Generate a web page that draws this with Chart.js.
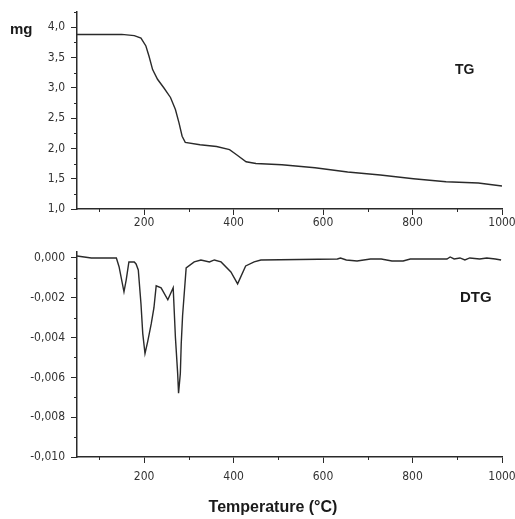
<!DOCTYPE html>
<html>
<head>
<meta charset="utf-8">
<script src="https://cdn.jsdelivr.net/npm/chart.js@4.4.0/dist/chart.umd.min.js"></script>
<style>
	html, body { margin: 0; padding: 0; background: #fff; }
	#wrap { position: relative; width: 515px; height: 519px; }
	#tg { position: absolute; left: 0; top: 0; }
	#dtg { position: absolute; left: 0; top: 240px; }
</style>
</head>
<body>
<div id="wrap">
	<canvas id="tg" width="515" height="240"></canvas>
	<canvas id="dtg" width="515" height="279"></canvas>
</div>
<script>
// TG curve (mass, mg)
const tgTemp = [50, 100, 150, 178, 193, 204, 211, 219, 230, 244, 259, 270, 278, 285, 292, 325, 362, 391, 406, 428, 450, 508, 582, 655, 728, 802, 875, 947, 1000];
const tgMass = [3.88, 3.88, 3.88, 3.86, 3.82, 3.69, 3.52, 3.30, 3.14, 3.00, 2.84, 2.64, 2.42, 2.20, 2.10, 2.06, 2.03, 1.98, 1.90, 1.78, 1.75, 1.73, 1.68, 1.61, 1.56, 1.50, 1.45, 1.43, 1.38];

// DTG curve (mg/°C)
const dtgTemp = [50, 82, 138, 144, 155, 160, 166, 178, 182, 187, 193, 197, 202, 208, 216, 222, 227, 238, 253, 265, 270, 275, 277, 281, 283, 286, 294, 312, 327, 346, 357, 372, 394, 409, 427, 446, 461, 632, 639, 652, 676, 706, 730, 754, 779, 795, 877, 884, 893, 906, 917, 928, 950, 966, 985, 998];
const dtgVal = [0.0001, 0, 0, -0.00044, -0.0017, -0.0011, -0.0002, -0.0002, -0.0003, -0.0006, -0.0023, -0.0038, -0.0048, -0.0042, -0.0033, -0.0025, -0.0014, -0.0015, -0.0021, -0.0015, -0.0040, -0.0058, -0.0068, -0.0058, -0.0043, -0.0029, -0.0005, -0.0002, -0.0001, -0.0002, -0.0001, -0.0002, -0.0007, -0.0013, -0.0004, -0.0002, -0.0001, -0.00005, 0, -0.0001, -0.00015, -0.00005, -0.00005, -0.00015, -0.00015, -0.00005, -0.00005, 0.00005, -0.00005, 0, -0.0001, 0, -0.00005, 0, -0.00005, -0.0001];

// tick values
const xMajor = [200, 400, 600, 800, 1000];
const xMinor = [100, 300, 500, 700, 900];
const tgMajor = [1.0, 1.5, 2.0, 2.5, 3.0, 3.5, 4.0];
const tgMinor = [1.25, 1.75, 2.25, 2.75, 3.25, 3.75, 4.25];
const dtgMajor = [-0.010, -0.008, -0.006, -0.004, -0.002, 0];
const dtgMinor = [-0.009, -0.007, -0.005, -0.003, -0.001];

const tickFont = { family: "'Liberation Sans Narrow', 'DejaVu Sans Condensed', 'Liberation Sans', Arial, sans-serif", size: 12 };
const inkColor = '#2a2a2a';

// short minor ticks, drawn from the scale itself
function minorTicks(xs, ys) {
	return {
		id: 'minorTicks',
		afterDraw(chart) {
			const ctx = chart.ctx;
			const sx = chart.scales.x, sy = chart.scales.y;
			ctx.save();
			ctx.strokeStyle = inkColor;
			ctx.lineWidth = 1;
			ctx.beginPath();
			xs.forEach(v => {
				const px = Math.round(sx.getPixelForValue(v)) + 0.5;
				ctx.moveTo(px, sx.top);
				ctx.lineTo(px, sx.top + 3);
			});
			ys.forEach(v => {
				const py = Math.round(sy.getPixelForValue(v)) + 0.5;
				if (py < chart.chartArea.top - 1) return;
				ctx.moveTo(sy.right, py);
				ctx.lineTo(sy.right - 3, py);
			});
			ctx.stroke();
			ctx.restore();
		}
	};
}

// text labels on the picture
function labels(items) {
	return {
		id: 'labels',
		afterDraw(chart) {
			const ctx = chart.ctx;
			ctx.save();
			ctx.fillStyle = '#1a1a1a';
			ctx.textBaseline = 'middle';
			items.forEach(it => {
				ctx.font = it.font;
				ctx.textAlign = it.align || 'left';
				ctx.fillText(it.text, it.x, it.y);
			});
			ctx.restore();
		}
	};
}

function commaFmt(digits) {
	return v => v.toFixed(digits).replace('.', ',');
}

function makeChart(el, xs, ys, yMin, yMax, yMajor, yDigits, padTop, axisH, xPad, extra) {
	return new Chart(el, {
		type: 'line',
		data: {
			datasets: [{
				data: xs.map((t, i) => ({ x: t, y: ys[i] })),
				borderColor: inkColor,
				borderWidth: 1.4,
				pointRadius: 0,
				tension: 0,
				fill: false
			}]
		},
		options: {
			responsive: false,
			animation: false,
			layout: { padding: { top: padTop, right: 13, left: 0, bottom: 0 } },
			plugins: { legend: { display: false }, tooltip: { enabled: false } },
			scales: {
				x: {
					type: 'linear',
					min: 50,
					max: 1000,
					afterBuildTicks: s => { s.ticks = xMajor.map(v => ({ value: v })); },
					afterFit: s => { s.height = axisH; s.paddingRight = 0; s.paddingLeft = 0; },
					grid: { drawOnChartArea: false, drawTicks: true, tickLength: 6, color: inkColor },
					border: { display: true, color: inkColor, width: 1.5 },
					ticks: { color: '#333', font: tickFont, padding: xPad, maxRotation: 0, callback: v => String(v) }
				},
				y: {
					type: 'linear',
					min: yMin,
					max: yMax,
					afterBuildTicks: s => { s.ticks = yMajor.map(v => ({ value: v })); },
					afterFit: s => { s.width = 77; s.paddingTop = 0; s.paddingBottom = 0; },
					grid: { drawOnChartArea: false, drawTicks: true, tickLength: 6, color: inkColor },
					border: { display: true, color: inkColor, width: 1.5 },
					ticks: { color: '#333', font: tickFont, padding: 6, callback: commaFmt(yDigits) }
				}
			}
		},
		plugins: extra
	});
}

makeChart(document.getElementById('tg'), tgTemp, tgMass, 1.0, 4.25, tgMajor, 1, 12, 31, 1, [
	minorTicks(xMinor, tgMinor),
	labels([
		{ text: 'mg', x: 10, y: 30, font: "bold 15px 'Liberation Sans', Arial, sans-serif" },
		{ text: 'TG', x: 455, y: 70, font: "bold 14px 'Liberation Sans', Arial, sans-serif" }
	])
]);

makeChart(document.getElementById('dtg'), dtgTemp, dtgVal, -0.010, 0.0003, dtgMajor, 3, 12, 62, 7, [
	minorTicks(xMinor, dtgMinor),
	labels([
		{ text: 'DTG', x: 460, y: 58, font: "bold 15px 'Liberation Sans', Arial, sans-serif" },
		{ text: 'Temperature (°C)', x: 273, y: 268, align: 'center', font: "bold 16px 'Liberation Sans', Arial, sans-serif" }
	])
]);
</script>
</body>
</html>
